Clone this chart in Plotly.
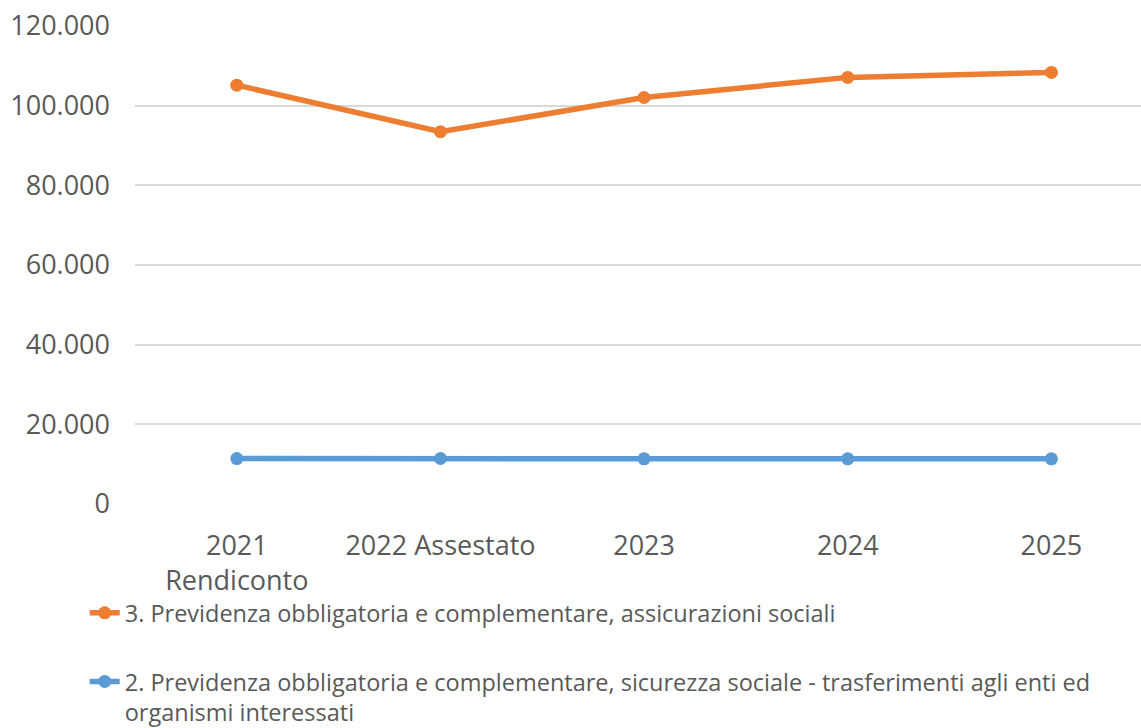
import plotly.graph_objects as go

# Categories and values
categories = ["2021<br>Rendiconto", "2022 Assestato", "2023", "2024", "2025"]
assicurazioni = [105150, 93450, 102050, 107100, 108350]
sicurezza = [11400, 11420, 11350, 11350, 11350]

name_orange = "3. Previdenza obbligatoria e complementare, assicurazioni sociali"
name_blue = ("2. Previdenza obbligatoria e complementare, sicurezza sociale - trasferimenti agli enti ed"
             "<br>organismi interessati")

grey = "#595959"
font_family = "Open Sans, Noto Sans, sans-serif"

fig = go.Figure()
fig.add_trace(go.Scatter(
    x=categories, y=assicurazioni, name=name_orange, mode="lines+markers",
    line=dict(color="#ED7D31", width=5.5), marker=dict(size=13, color="#ED7D31"),
    legendgroup="a",
))
fig.add_trace(go.Scatter(
    x=categories, y=sicurezza, name=name_blue, mode="lines+markers",
    line=dict(color="#5B9BD5", width=5.5), marker=dict(size=13, color="#5B9BD5"),
    legendgroup="b",
))

fig.update_layout(
    width=1141, height=728,
    margin=dict(l=135, r=0, t=26, b=224, autoexpand=False),
    plot_bgcolor="white", paper_bgcolor="white",
    separators=",.",
    font=dict(family=font_family, color=grey),
    showlegend=True,
    legend=dict(
        x=-0.05, y=-0.1822, xanchor="left", yanchor="top",
        font=dict(size=23.5, color=grey), tracegroupgap=35, valign="top",
        bgcolor="rgba(0,0,0,0)",
    ),
)
fig.update_xaxes(
    type="category", range=[-0.5, 4.44], showgrid=False, showline=False,
    zeroline=False, ticks="", tickfont=dict(size=27, color=grey),
    ticklabelstandoff=23, automargin=False,
)
fig.update_yaxes(
    range=[0, 120000], dtick=20000, tickformat=",", showgrid=True,
    gridcolor="#D9D9D9", gridwidth=1.5, zeroline=False, showline=False, ticks="",
    tickfont=dict(size=27, color=grey), ticklabelstandoff=24, automargin=False,
)

fig.write_html("out.html", config={"displayModeBar": False},
               post_script="document.body.style.margin='0';")
